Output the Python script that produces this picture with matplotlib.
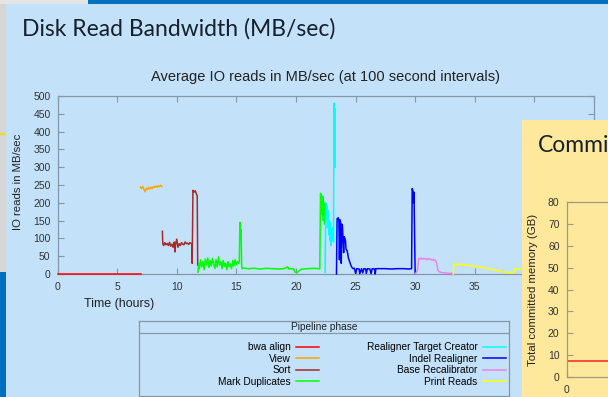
import numpy as np
import matplotlib.pyplot as plt
from matplotlib.patches import Rectangle

plt.rcParams['font.family'] = ['Liberation Sans', 'DejaVu Sans']

# valeurs : heures / MB par seconde
bwa_h = [0.0, 7.0]
bwa_v = [0, 0]

view_h = [6.95, 7.05, 7.15, 7.25, 7.35, 7.45, 7.55, 7.65, 7.75, 7.85, 7.95,
          8.05, 8.15, 8.25, 8.35, 8.45, 8.55, 8.65, 8.75]
view_v = [244, 240, 246, 238, 231, 241, 237, 243, 239, 244, 240, 246, 243,
          247, 244, 248, 245, 249, 246]

sort_h = [8.8, 8.83, 8.9, 9.0, 9.1, 9.2, 9.3, 9.4, 9.5, 9.6, 9.7, 9.8, 9.85,
          9.9, 10.0, 10.1, 10.2, 10.3, 10.4, 10.5, 10.6, 10.7, 10.8, 10.9,
          11.0, 11.1, 11.2, 11.27, 11.3, 11.36, 11.45, 11.55, 11.62, 11.66,
          11.72, 11.76]
sort_v = [120, 85, 80, 88, 82, 86, 80, 89, 78, 84, 75, 90, 62, 82, 98, 75, 85,
          80, 88, 84, 82, 90, 85, 87, 83, 88, 86, 85, 30, 235, 230, 234, 228,
          223, 220, 25]

markdup_h = [11.78, 11.85, 11.9, 12.0, 12.1, 12.2, 12.3, 12.4, 12.5, 12.6,
             12.7, 12.8, 12.9, 13.0, 13.1, 13.2, 13.3, 13.4, 13.5, 13.6, 13.7,
             13.8, 13.9, 14.0, 14.1, 14.2, 14.3, 14.4, 14.5, 14.6, 14.7, 14.8,
             14.9, 15.0, 15.1, 15.2, 15.25, 15.3, 15.35, 15.4, 15.45, 15.5,
             15.6, 16.0, 16.5, 17.0, 17.5, 18.0, 18.5, 19.0, 19.3, 19.4, 19.8,
             19.9, 20.1, 20.3, 20.5, 21.0, 21.5, 21.9, 22.0, 22.06, 22.12,
             22.18, 22.22, 22.26, 22.3, 22.35, 22.4, 22.44]
markdup_v = [5, 30, 15, 40, 20, 35, 12, 42, 25, 45, 18, 38, 22, 44, 28, 15, 40,
             20, 48, 25, 35, 15, 38, 22, 30, 12, 35, 20, 28, 15, 38, 22, 40,
             25, 35, 30, 35, 145, 100, 125, 20, 15, 17, 15, 16, 14, 16, 15, 14,
             15, 20, 14, 15, 6, 4, 10, 14, 15, 16, 15, 14, 227, 222, 215, 165,
             218, 150, 200, 140, 180]

rtc_h = [22.45, 22.5, 22.55, 22.6, 22.65, 22.7, 22.75, 22.8, 22.85, 22.9,
         22.95, 23.0, 23.05, 23.1, 23.15, 23.2, 23.24, 23.27, 23.3]
rtc_v = [5, 200, 165, 190, 130, 178, 110, 150, 95, 145, 80, 125, 95, 130, 90,
         480, 320, 465, 300]

indel_h = [23.4, 23.45, 23.55, 23.6, 23.65, 23.7, 23.75, 23.8, 23.85, 23.9,
           24.0, 24.05, 24.15, 24.2, 24.3, 24.4, 24.5, 24.6, 24.7, 24.8, 24.9,
           25.0, 25.1, 25.3, 25.35, 25.5, 25.6, 25.7, 25.85, 25.9, 26.0, 26.2,
           26.3, 26.4, 26.6, 26.65, 26.7, 27.5, 28.0, 28.5, 29.0, 29.5, 29.7,
           29.75, 29.8, 29.85, 29.9, 29.95, 30.0]
indel_v = [0, 155, 158, 150, 40, 152, 145, 30, 140, 135, 60, 105, 95, 70, 65,
           45, 35, 25, 18, 15, 16, 2, 15, 14, 1, 15, 3, 15, 14, 2, 15, 14, 1,
           15, 14, 0, 15, 15, 14, 15, 15, 14, 15, 240, 235, 200, 230, 115, 0]

bqsr_h = [30.0, 30.2, 30.3, 30.4, 30.5, 30.6, 30.7, 30.8, 30.9, 31.0, 31.1,
          31.2, 31.3, 31.4, 31.5, 31.6, 31.7, 31.8, 31.9, 32.0, 32.2, 32.5,
          32.8, 33.2]
bqsr_v = [0, 10, 44, 42, 45, 41, 44, 42, 43, 40, 43, 41, 42, 39, 41, 38, 39,
          30, 12, 7, 4, 3, 2, 2]

print_h = [33.2, 33.25, 33.5, 33.7, 33.9, 34.1, 34.3, 34.5, 34.8, 35.0, 35.3,
           35.6, 35.9, 36.2, 36.5, 36.8, 37.1, 37.4, 37.7, 38.0, 38.3, 38.35,
           38.6, 39.0, 39.5, 40.0]
print_v = [0, 28, 26, 29, 25, 27, 24, 25, 22, 23, 20, 19, 17, 15, 13, 10, 8, 6,
           4, 4, 4, 15, 14, 15, 15, 15]

phases = [
    ('bwa align', bwa_h, bwa_v, '#ff0000'),
    ('View', view_h, view_v, '#ffa500'),
    ('Sort', sort_h, sort_v, '#a52a2a'),
    ('Mark Duplicates', markdup_h, markdup_v, '#00ff00'),
    ('Realigner Target Creator', rtc_h, rtc_v, '#00ffff'),
    ('Indel Realigner', indel_h, indel_v, '#0000ff'),
    ('Base Recalibrator', bqsr_h, bqsr_v, '#ee82ee'),
    ('Print Reads', print_h, print_v, '#ffff00'),
]
x_ticks = [0, 5, 10, 15, 20, 25, 30, 35, 40, 45]
x_labels = ['0', '5', '10', '15', '20', '25', '30', '35', '', '']

# memoire (panneau jaune a droite, presque cache)
mem_h = [0, 10]
mem_v = [7.5, 7.5]

W, H = 608, 397
fig = plt.figure(figsize=(W / 100, H / 100), dpi=100)
fig.patch.set_facecolor('#c3e2fa')


def box(x, y, w, h, color, z):
    # rectangle en pixels, origine en haut a gauche
    fig.patches.append(Rectangle((x / W, 1 - (y + h) / H), w / W, h / H,
                                 transform=fig.transFigure, color=color,
                                 zorder=z, lw=0))


def axrect(x, y, w, h):
    return [x / W, 1 - (y + h) / H, w / W, h / H]


# bords de la diapo
box(0, 0, 88, 4, '#e4e4e4', 0.5)
box(88, 0, 520, 4, '#0070c0', 0.5)
box(0, 4, 6, 268, '#d6d6d6', 0.5)
box(0, 133, 6, 2, '#f0e000', 0.6)
box(0, 272, 6, 125, '#0070c0', 0.5)

fig.text(22 / W, 1 - 29 / H, 'Disk Read Bandwidth (MB/sec)', family='Lato',
         fontsize=16.5, color='#15202b', va='center', ha='left')

grey = '#8596a6'
ax = fig.add_axes(axrect(57.5, 96, 536.5, 178))
ax.set_facecolor('none')
for name, h, v, c in phases:
    ax.plot(h, v, color=c, lw=1.1, label=name, zorder=3, clip_on=False)
ax.set_xlim(0, 45)
ax.set_ylim(0, 500)
ax.set_xticks(x_ticks)
ax.set_xticklabels(x_labels)
ax.set_yticks(range(0, 501, 50))
ax.tick_params(direction='in', length=4, width=0.8, color=grey,
               labelcolor='#333333', labelsize=7.5, top=True, right=True)
ax.tick_params(axis='x', pad=6)
ax.tick_params(axis='y', pad=5)
for s in ax.spines.values():
    s.set_color(grey)
    s.set_linewidth(0.9)
ax.set_title('Average IO reads in MB/sec (at 100 second intervals)',
             fontsize=10.5, color='#222222', pad=10.5)
ax.set_ylabel('IO reads in MB/sec', fontsize=8.2, color='#222222')
ax.yaxis.set_label_coords(-0.064, 0.52)
ax.set_xlabel('Time (hours)', fontsize=9, color='#222222')
ax.xaxis.set_label_coords(0.1146, -0.133)

# boite de legende
lax = fig.add_axes(axrect(139, 321, 370, 75))
lax.set_facecolor('none')
lax.set_xticks([])
lax.set_yticks([])
for s in lax.spines.values():
    s.set_color(grey)
    s.set_linewidth(0.9)
lax.axhline(0.84, color=grey, lw=0.9)
lax.text(0.5, 0.92, 'Pipeline phase', ha='center', va='center', fontsize=7.3,
         color='#222222', transform=lax.transAxes)
lax.legend(ax.get_lines(), [p[0] for p in phases], ncol=2, markerfirst=False,
           frameon=False, fontsize=7.3, handlelength=2.3, handletextpad=0.5,
           columnspacing=4.7, labelspacing=0.15, borderpad=0, loc='upper right',
           bbox_to_anchor=(511 / W, 1 - 337 / H),
           bbox_transform=fig.transFigure)

# panneau jaune de la diapo suivante
yellow = '#fde89c'
box(522, 120, 86, 277, yellow, 1)
fig.text(538 / W, 1 - 145 / H, 'Commit', family='Lato', fontsize=16.5,
         color='#15202b', va='center', ha='left', zorder=3)
max_ = fig.add_axes(axrect(566.5, 202, 365, 175))
max_.set_zorder(2)
max_.set_facecolor(yellow)
max_.plot(mem_h, mem_v, color='#ff2020', lw=1.1)
max_.set_xlim(0, 45)
max_.set_ylim(0, 80)
max_.set_xticks([0])
max_.set_yticks(range(0, 81, 10))
max_.tick_params(direction='in', length=4, width=0.8, color='#a09a80',
                 labelcolor='#333333', labelsize=7.5)
max_.tick_params(axis='x', pad=6)
max_.tick_params(axis='y', pad=5)
for s in max_.spines.values():
    s.set_color('#a09a80')
    s.set_linewidth(0.9)
max_.set_ylabel('Total committed memory (GB)', fontsize=8.2, color='#222222')
max_.yaxis.set_label_coords(-0.078, 0.5)

fig.savefig('out.png', dpi=100, facecolor=fig.get_facecolor())
